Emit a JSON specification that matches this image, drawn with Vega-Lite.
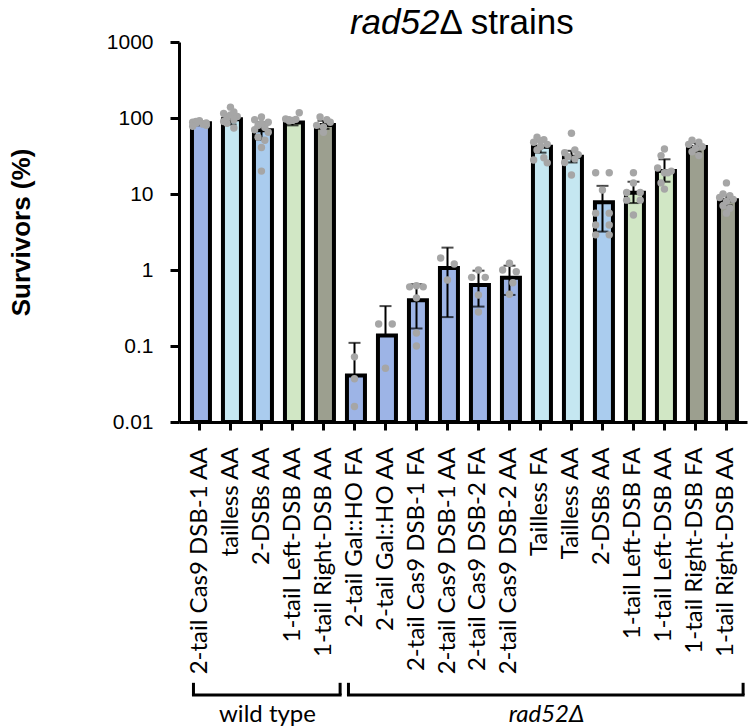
{
  "$schema": "https://vega.github.io/schema/vega-lite/v6.json",
  "width": 568,
  "height": 380,
  "autosize": "none",
  "padding": {"left": 179, "top": 42, "right": 3, "bottom": 306},
  "background": "white",
  "config": {"view": {"stroke": null}, "font": "Liberation Sans"},
  "datasets": {
    "bars": [
      {"id": "01", "k": "01|2-tail Cas9 DSB-1 AA", "grp": "A", "mean": 85, "hi": 90, "lo": 80, "lc": true},
      {"id": "02", "k": "02|tailless AA", "grp": "B", "mean": 96, "hi": 112, "lo": 82, "lc": true},
      {"id": "03", "k": "03|2-DSBs AA", "grp": "C", "mean": 69, "hi": 88, "lo": 52, "lc": true},
      {"id": "04", "k": "04|1-tail Left-DSB AA", "grp": "D", "mean": 87, "hi": 98, "lo": 80, "lc": true},
      {"id": "05", "k": "05|1-tail Right-DSB AA", "grp": "E", "mean": 81, "hi": 92, "lo": 72, "lc": true},
      {"id": "06", "k": "06|2-tail Gal::HO FA", "grp": "A", "mean": 0.041, "hi": 0.11, "lo": 0.041, "lc": false},
      {"id": "07", "k": "07|2-tail Gal::HO AA", "grp": "A", "mean": 0.137, "hi": 0.335, "lo": 0.137, "lc": false},
      {"id": "08", "k": "08|2-tail Cas9 DSB-1 FA", "grp": "A", "mean": 0.4, "hi": 0.65, "lo": 0.17, "lc": true},
      {"id": "09", "k": "09|2-tail Cas9 DSB-1 AA", "grp": "A", "mean": 1.06, "hi": 1.97, "lo": 0.24, "lc": true},
      {"id": "10", "k": "10|2-tail Cas9 DSB-2 FA", "grp": "A", "mean": 0.635, "hi": 0.98, "lo": 0.33, "lc": true},
      {"id": "11", "k": "11|2-tail Cas9 DSB-2 AA", "grp": "A", "mean": 0.79, "hi": 1.14, "lo": 0.47, "lc": true},
      {"id": "12", "k": "12|Tailless FA", "grp": "B", "mean": 42, "hi": 50, "lo": 35, "lc": true},
      {"id": "13", "k": "13|Tailless AA", "grp": "B", "mean": 31, "hi": 37, "lo": 26, "lc": true},
      {"id": "14", "k": "14|2-DSBs AA", "grp": "C", "mean": 7.8, "hi": 12.8, "lo": 3.2, "lc": true},
      {"id": "15", "k": "15|1-tail Left-DSB FA", "grp": "D", "mean": 10.4, "hi": 14.5, "lo": 7.6, "lc": true},
      {"id": "16", "k": "16|1-tail Left-DSB AA", "grp": "D", "mean": 20, "hi": 28.6, "lo": 14.5, "lc": true},
      {"id": "17", "k": "17|1-tail Right-DSB FA", "grp": "E", "mean": 41.5, "hi": 47, "lo": 36, "lc": true},
      {"id": "18", "k": "18|1-tail Right-DSB AA", "grp": "E", "mean": 8.3, "hi": 9.6, "lo": 7.1, "lc": true}
    ],
    "pts": [
      {"id": "01", "v": 88, "j": "1"}, {"id": "01", "v": 92, "j": "3"}, {"id": "01", "v": 80, "j": "5"}, {"id": "01", "v": 85, "j": "2"}, {"id": "01", "v": 83, "j": "4"}, {"id": "01", "v": 90, "j": "2"}, {"id": "01", "v": 78, "j": "1"}, {"id": "01", "v": 86, "j": "5"},
      {"id": "02", "v": 139, "j": "3"}, {"id": "02", "v": 115, "j": "1"}, {"id": "02", "v": 105, "j": "5"}, {"id": "02", "v": 100, "j": "2"}, {"id": "02", "v": 95, "j": "4"}, {"id": "02", "v": 110, "j": "3"}, {"id": "02", "v": 120, "j": "4"}, {"id": "02", "v": 85, "j": "2"}, {"id": "02", "v": 74, "j": "4"}, {"id": "02", "v": 90, "j": "1"},
      {"id": "03", "v": 103, "j": "3"}, {"id": "03", "v": 95, "j": "1"}, {"id": "03", "v": 88, "j": "5"}, {"id": "03", "v": 80, "j": "2"}, {"id": "03", "v": 75, "j": "4"}, {"id": "03", "v": 70, "j": "1"}, {"id": "03", "v": 65, "j": "5"}, {"id": "03", "v": 56, "j": "2"}, {"id": "03", "v": 51, "j": "4"}, {"id": "03", "v": 41, "j": "3"}, {"id": "03", "v": 20, "j": "3"}, {"id": "03", "v": 85, "j": "3"},
      {"id": "04", "v": 117, "j": "5"}, {"id": "04", "v": 97, "j": "1"}, {"id": "04", "v": 95, "j": "2"}, {"id": "04", "v": 93, "j": "3"}, {"id": "04", "v": 96, "j": "4"}, {"id": "04", "v": 92, "j": "2"},
      {"id": "05", "v": 103, "j": "2"}, {"id": "05", "v": 95, "j": "4"}, {"id": "05", "v": 88, "j": "5"}, {"id": "05", "v": 80, "j": "1"}, {"id": "05", "v": 76, "j": "3"}, {"id": "05", "v": 65, "j": "3"},
      {"id": "06", "v": 0.072, "j": "3"}, {"id": "06", "v": 0.037, "j": "3"}, {"id": "06", "v": 0.016, "j": "3"},
      {"id": "07", "v": 0.195, "j": "1"}, {"id": "07", "v": 0.195, "j": "5"}, {"id": "07", "v": 0.051, "j": "3"},
      {"id": "08", "v": 0.6, "j": "1"}, {"id": "08", "v": 0.62, "j": "3"}, {"id": "08", "v": 0.6, "j": "5"}, {"id": "08", "v": 0.43, "j": "3"}, {"id": "08", "v": 0.148, "j": "3"}, {"id": "08", "v": 0.1, "j": "3"},
      {"id": "09", "v": 1.44, "j": "1"}, {"id": "09", "v": 1.2, "j": "5"}, {"id": "09", "v": 0.74, "j": "3"},
      {"id": "10", "v": 1.0, "j": "3"}, {"id": "10", "v": 0.8, "j": "1"}, {"id": "10", "v": 0.8, "j": "5"}, {"id": "10", "v": 0.47, "j": "3"}, {"id": "10", "v": 0.28, "j": "3"},
      {"id": "11", "v": 1.23, "j": "3"}, {"id": "11", "v": 1.0, "j": "1"}, {"id": "11", "v": 0.95, "j": "5"}, {"id": "11", "v": 0.68, "j": "4"}, {"id": "11", "v": 0.48, "j": "3"},
      {"id": "12", "v": 56, "j": "2"}, {"id": "12", "v": 52, "j": "4"}, {"id": "12", "v": 48, "j": "1"}, {"id": "12", "v": 45, "j": "5"}, {"id": "12", "v": 42, "j": "3"}, {"id": "12", "v": 38, "j": "2"}, {"id": "12", "v": 30, "j": "4"}, {"id": "12", "v": 28, "j": "1"}, {"id": "12", "v": 25.7, "j": "5"}, {"id": "12", "v": 50, "j": "3"},
      {"id": "13", "v": 63, "j": "3"}, {"id": "13", "v": 38, "j": "4"}, {"id": "13", "v": 35, "j": "1"}, {"id": "13", "v": 33, "j": "5"}, {"id": "13", "v": 31, "j": "2"}, {"id": "13", "v": 29, "j": "4"}, {"id": "13", "v": 26, "j": "1"}, {"id": "13", "v": 17.8, "j": "3"},
      {"id": "14", "v": 19, "j": "1"}, {"id": "14", "v": 19, "j": "5"}, {"id": "14", "v": 11.3, "j": "3"}, {"id": "14", "v": 5.6, "j": "1"}, {"id": "14", "v": 5.6, "j": "5"}, {"id": "14", "v": 3.9, "j": "1"}, {"id": "14", "v": 3.9, "j": "5"}, {"id": "14", "v": 2.9, "j": "1"}, {"id": "14", "v": 2.9, "j": "5"},
      {"id": "15", "v": 19, "j": "3"}, {"id": "15", "v": 14, "j": "3"}, {"id": "15", "v": 10.5, "j": "1"}, {"id": "15", "v": 10.5, "j": "5"}, {"id": "15", "v": 8.3, "j": "1"}, {"id": "15", "v": 8.3, "j": "5"}, {"id": "15", "v": 5.3, "j": "3"},
      {"id": "16", "v": 39, "j": "3"}, {"id": "16", "v": 32, "j": "2"}, {"id": "16", "v": 22, "j": "1"}, {"id": "16", "v": 20, "j": "5"}, {"id": "16", "v": 19, "j": "3"}, {"id": "16", "v": 19, "j": "4"}, {"id": "16", "v": 14, "j": "2"}, {"id": "16", "v": 11.6, "j": "3"},
      {"id": "17", "v": 51, "j": "2"}, {"id": "17", "v": 48, "j": "4"}, {"id": "17", "v": 45, "j": "1"}, {"id": "17", "v": 42, "j": "5"}, {"id": "17", "v": 40, "j": "3"}, {"id": "17", "v": 36, "j": "2"}, {"id": "17", "v": 32, "j": "4"},
      {"id": "18", "v": 14, "j": "3"}, {"id": "18", "v": 10, "j": "2"}, {"id": "18", "v": 9.5, "j": "4"}, {"id": "18", "v": 9, "j": "1"}, {"id": "18", "v": 8.5, "j": "5"}, {"id": "18", "v": 8, "j": "3"}, {"id": "18", "v": 7, "j": "2"}, {"id": "18", "v": 6.5, "j": "4"}, {"id": "18", "v": 5.6, "j": "3"}
    ],
    "brk": [
      {"k": "01|2-tail Cas9 DSB-1 AA", "k2": "05|1-tail Right-DSB AA", "ylo": 2.56e-6, "yhi": 3.7e-6},
      {"k": "06|2-tail Gal::HO FA", "k2": "18|1-tail Right-DSB AA", "ylo": 2.56e-6, "yhi": 3.7e-6}
    ],
    "grplab1": [
      {"k": "03|2-DSBs AA", "t": "wild type", "y": 1.4e-6}
    ],
    "grplab2": [
      {"k": "12|Tailless FA", "t": "rad52Δ", "y": 1.4e-6}
    ],
    "ttl": [
      {"k": "09|2-tail Cas9 DSB-1 AA", "a": "rad52", "b": "Δ strains", "y": 1780}
    ]
  },
  "layer": [
    {
      "data": {"name": "bars"},
      "mark": {"type": "bar", "stroke": "black", "strokeWidth": 4},
      "encoding": {
        "x": {
          "field": "k", "type": "nominal", "sort": null,
          "scale": {"paddingInner": 0.513, "paddingOuter": 0.418},
          "axis": {
            "title": null,
            "labelExpr": "split(datum.value, '|')[1]",
            "labelAngle": -90,
            "labelFont": "Lato",
            "labelFontSize": 24,
            "labelColor": "black",
            "labelPadding": 17,
            "labelLimit": 400,
            "labelOverlap": false,
            "domainColor": "black",
            "domainWidth": 3,
            "tickColor": "black",
            "tickWidth": 3,
            "tickSize": 8
          }
        },
        "y": {
          "field": "mean", "type": "quantitative",
          "scale": {"type": "log", "domain": [0.01, 1000], "nice": false},
          "axis": {
            "title": "Survivors (%)",
            "titleFont": "Liberation Sans",
            "titleFontSize": 26,
            "titleFontWeight": "bold",
            "titleColor": "black",
            "titleAngle": -90,
            "titleAlign": "center",
            "titleBaseline": "middle",
            "titleX": -158,
            "titleY": 190,
            "values": [0.01, 0.1, 1, 10, 100, 1000],
            "labelExpr": "datum.value < 1 ? toString(datum.value) : format(datum.value, 'd')",
            "labelFont": "Liberation Sans",
            "labelFontSize": 21,
            "labelColor": "black",
            "labelPadding": 17,
            "grid": false,
            "domainColor": "black",
            "domainWidth": 3,
            "tickColor": "black",
            "tickWidth": 3,
            "tickSize": 9
          }
        },
        "y2": {"datum": 0.01},
        "color": {
          "field": "grp", "type": "nominal",
          "scale": {"domain": ["A", "B", "C", "D", "E"], "range": ["#9DB4E6", "#C5E7F1", "#AACCEE", "#D1E7C5", "#9C9F8F"]},
          "legend": null
        }
      }
    },
    {
      "data": {"name": "bars"},
      "mark": {"type": "rule", "color": "black", "strokeWidth": 2},
      "encoding": {
        "x": {"field": "k", "type": "nominal", "sort": null},
        "y": {"field": "lo", "type": "quantitative"},
        "y2": {"field": "hi"}
      }
    },
    {
      "data": {"name": "bars"},
      "mark": {"type": "tick", "color": "black", "thickness": 2, "size": 12},
      "encoding": {
        "x": {"field": "k", "type": "nominal", "sort": null},
        "y": {"field": "hi", "type": "quantitative"}
      }
    },
    {
      "data": {"name": "bars"},
      "transform": [{"filter": "datum.lc"}],
      "mark": {"type": "tick", "color": "black", "thickness": 2, "size": 12},
      "encoding": {
        "x": {"field": "k", "type": "nominal", "sort": null},
        "y": {"field": "lo", "type": "quantitative"}
      }
    },
    {
      "data": {"name": "pts"},
      "transform": [{"lookup": "id", "from": {"data": {"name": "bars"}, "key": "id", "fields": ["k"]}}],
      "mark": {"type": "circle", "color": "#A6A6A6", "opacity": 1, "size": 55},
      "encoding": {
        "x": {"field": "k", "type": "nominal", "sort": null},
        "xOffset": {"field": "j", "type": "nominal", "scale": {"type": "point", "domain": ["1", "2", "3", "4", "5"], "range": [-1, 16]}},
        "y": {"field": "v", "type": "quantitative"}
      }
    },
    {
      "data": {"name": "brk"},
      "mark": {"type": "rule", "color": "black", "strokeWidth": 3, "strokeCap": "square"},
      "encoding": {
        "x": {"field": "k", "type": "nominal", "sort": null, "bandPosition": 0.1},
        "x2": {"field": "k2", "bandPosition": 1.6},
        "y": {"field": "ylo", "type": "quantitative"}
      }
    },
    {
      "data": {"name": "brk"},
      "mark": {"type": "rule", "color": "black", "strokeWidth": 3},
      "encoding": {
        "x": {"field": "k", "type": "nominal", "sort": null, "bandPosition": 0.1},
        "y": {"field": "ylo", "type": "quantitative"},
        "y2": {"field": "yhi"}
      }
    },
    {
      "data": {"name": "brk"},
      "mark": {"type": "rule", "color": "black", "strokeWidth": 3},
      "encoding": {
        "x": {"field": "k2", "type": "nominal", "sort": null, "bandPosition": 1.6},
        "y": {"field": "ylo", "type": "quantitative"},
        "y2": {"field": "yhi"}
      }
    },
    {
      "data": {"name": "grplab1"},
      "mark": {"type": "text", "font": "Lato", "fontSize": 24, "color": "black", "align": "center", "baseline": "middle", "dx": 6},
      "encoding": {
        "x": {"field": "k", "type": "nominal", "sort": null},
        "y": {"field": "y", "type": "quantitative"},
        "text": {"field": "t"}
      }
    },
    {
      "data": {"name": "grplab2"},
      "mark": {"type": "text", "font": "Lato", "fontSize": 24, "fontStyle": "italic", "color": "black", "align": "center", "baseline": "middle", "dx": 6},
      "encoding": {
        "x": {"field": "k", "type": "nominal", "sort": null},
        "y": {"field": "y", "type": "quantitative"},
        "text": {"field": "t"}
      }
    },
    {
      "data": {"name": "ttl"},
      "mark": {"type": "text", "font": "Liberation Sans", "fontSize": 35, "fontStyle": "italic", "color": "black", "align": "right", "baseline": "middle", "dx": -8},
      "encoding": {
        "x": {"field": "k", "type": "nominal", "sort": null},
        "y": {"field": "y", "type": "quantitative"},
        "text": {"field": "a"}
      }
    },
    {
      "data": {"name": "ttl"},
      "mark": {"type": "text", "font": "Liberation Sans", "fontSize": 35, "color": "black", "align": "left", "baseline": "middle", "dx": -8},
      "encoding": {
        "x": {"field": "k", "type": "nominal", "sort": null},
        "y": {"field": "y", "type": "quantitative"},
        "text": {"field": "b"}
      }
    }
  ]
}
